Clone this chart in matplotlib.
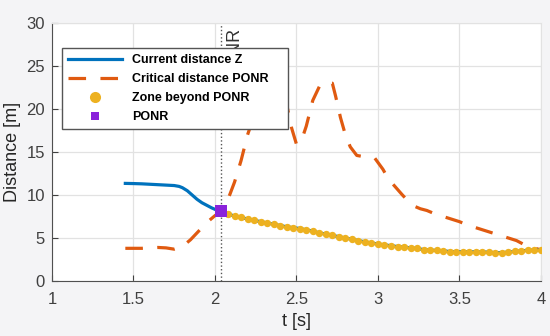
import matplotlib
matplotlib.use("Agg")
import matplotlib.pyplot as plt

# ---------------------------------------------------------------------------
# Data
# ---------------------------------------------------------------------------
# current distance Z before the point of no return
t_current = [1.45, 1.50, 1.55, 1.60, 1.65, 1.70, 1.75, 1.78, 1.80, 1.83,
             1.86, 1.89, 1.92, 1.95, 1.98, 2.01, 2.04]
z_current = [11.35, 11.33, 11.3, 11.25, 11.2, 11.15, 11.1, 11.0, 10.85, 10.5,
             10.0, 9.5, 9.1, 8.8, 8.5, 8.25, 8.1]

# critical distance (point of no return)
t_critical = [1.45, 1.50, 1.55, 1.60, 1.65, 1.70, 1.75, 1.80, 1.85, 1.90,
              1.95, 2.00, 2.04, 2.08, 2.12, 2.16, 2.20, 2.25, 2.30, 2.35,
              2.40, 2.43, 2.47, 2.50, 2.53, 2.56, 2.60, 2.64, 2.67, 2.72,
              2.74, 2.77, 2.80, 2.83, 2.87, 2.93, 2.98, 3.03, 3.06, 3.09,
              3.15, 3.21, 3.26, 3.30, 3.35, 3.40, 3.45, 3.50, 3.55, 3.60,
              3.65, 3.70, 3.75, 3.80, 3.85, 3.90, 3.95, 4.00]
d_critical = [3.8, 3.8, 3.8, 3.85, 3.9, 3.85, 3.7, 4.0, 4.8, 5.8,
              6.8, 7.6, 8.1, 9.5, 11.5, 14.0, 17.0, 19.8, 21.3, 22.0,
              21.9, 21.4, 17.8, 15.9, 16.3, 18.0, 21.0, 22.6, 23.1, 23.0,
              21.5, 19.0, 17.0, 15.6, 14.6, 14.4, 14.3, 13.0, 12.0, 11.3,
              10.0, 8.8, 8.4, 8.2, 7.8, 7.5, 7.2, 6.9, 6.5, 6.2,
              5.9, 5.6, 5.3, 5.0, 4.7, 4.2, 3.9, 3.6]

# zone beyond the point of no return (sampled every 0.04 s)
t_zone = [2.04, 2.08, 2.12, 2.16, 2.20, 2.24, 2.28, 2.32, 2.36, 2.40,
          2.44, 2.48, 2.52, 2.56, 2.60, 2.64, 2.68, 2.72, 2.76, 2.80,
          2.84, 2.88, 2.92, 2.96, 3.00, 3.04, 3.08, 3.12, 3.16, 3.20,
          3.24, 3.28, 3.32, 3.36, 3.40, 3.44, 3.48, 3.52, 3.56, 3.60,
          3.64, 3.68, 3.72, 3.76, 3.80, 3.84, 3.88, 3.92, 3.96, 4.00]
z_zone = [8.1, 7.8, 7.55, 7.4, 7.2, 7.05, 6.9, 6.75, 6.6, 6.45,
          6.3, 6.2, 6.1, 5.95, 5.8, 5.6, 5.45, 5.3, 5.15, 5.0,
          4.85, 4.7, 4.55, 4.42, 4.3, 4.2, 4.1, 4.0, 3.95, 3.85,
          3.78, 3.65, 3.6, 3.55, 3.52, 3.42, 3.42, 3.4, 3.4, 3.4,
          3.38, 3.35, 3.3, 3.3, 3.35, 3.45, 3.5, 3.58, 3.6, 3.6]

t_ponr = 2.04
d_ponr = 8.1

x_ticks = [1, 1.5, 2, 2.5, 3, 3.5, 4]
x_tick_labels = ["1", "1.5", "2", "2.5", "3", "3.5", "4"]
y_ticks = [0, 5, 10, 15, 20, 25, 30]

# ---------------------------------------------------------------------------
# Plot
# ---------------------------------------------------------------------------
plt.rcParams["font.family"] = ["Liberation Sans", "DejaVu Sans"]

fig = plt.figure(figsize=(5.5, 3.36), dpi=100, facecolor="#f4f4f6")
ax = fig.add_axes([0.0945, 0.1637, 0.8891, 0.7678])
ax.set_facecolor("white")

ax.plot(t_current + t_zone[1:], z_current + z_zone[1:], color="#0072BD",
        linewidth=2.3, label="Current distance Z", zorder=3)
ax.plot(t_critical, d_critical, color="#E05A10", linewidth=2.3,
        dashes=(5.5, 4.5), label="Critical distance PONR", zorder=2)
ax.plot(t_zone, z_zone, linestyle="none", marker="o", markersize=5.3,
        color="#EDB120", markeredgewidth=0, label="Zone beyond PONR", zorder=4)
ax.plot([t_ponr], [d_ponr], linestyle="none", marker="s", markersize=8,
        color="#8A22DA", markeredgewidth=0, label="PONR", zorder=5)

# vertical marker + label (partly hidden by the legend, as in the original)
ax.axvline(t_ponr, color="#555555", linestyle=":", linewidth=1, zorder=1)
ax.text(2.067, 29.6, "PONR", rotation=90, ha="left", va="top",
        fontsize=13, color="#333333", zorder=1)

ax.set_xlim(1, 4)
ax.set_ylim(0, 30)
ax.set_xticks(x_ticks)
ax.set_xticklabels(x_tick_labels)
ax.set_yticks(y_ticks)
ax.tick_params(direction="in", length=4, width=0.8, labelsize=12,
               colors="#404040")
ax.tick_params(axis="x", pad=8)
ax.tick_params(axis="y", pad=5)
ax.grid(color="#e2e2e2", linewidth=0.9)
ax.set_axisbelow(True)
for side in ["left", "bottom"]:
    ax.spines[side].set_color("#505050")
    ax.spines[side].set_linewidth(0.8)
for side in ["top", "right"]:
    ax.spines[side].set_color("#e2e2e2")

ax.set_xlabel("t [s]", fontsize=13, color="#262626", labelpad=4)
ax.set_ylabel("Distance [m]", fontsize=13, color="#262626", labelpad=4)

leg = ax.legend(loc="upper left", bbox_to_anchor=(0.0204, 0.0, 0.4622, 0.903),
                mode="expand", borderaxespad=0, fancybox=False, framealpha=1,
                edgecolor="#555555", handlelength=4.3, handletextpad=0.8,
                labelspacing=0.55, borderpad=0.5,
                prop={"weight": "bold", "size": 9})
leg.get_frame().set_linewidth(1.0)
leg.legend_handles[2].set_markersize(8)
leg.legend_handles[3].set_markersize(6)

fig.savefig("out.png", dpi=100, facecolor=fig.get_facecolor())
